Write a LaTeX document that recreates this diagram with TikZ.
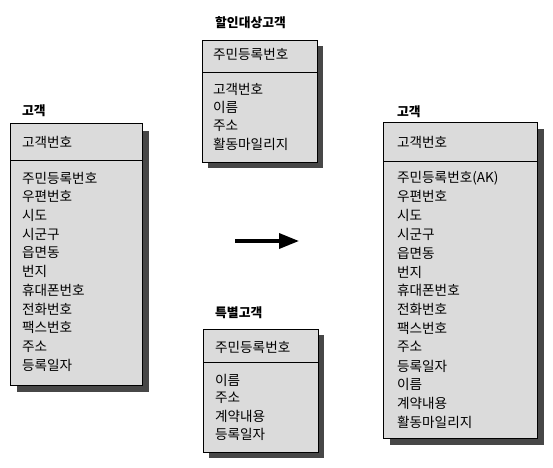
\documentclass[tikz,border=0pt]{standalone}
\usepackage{fontspec}
\setmainfont{Noto Sans CJK KR}
\usetikzlibrary{arrows.meta}

\tikzset{
  entity/.style={fill=gray!28, draw=black, line width=0.7pt},
  shade box/.style={fill=black!72},
  title/.style={anchor=west, inner sep=0pt, font=\fontsize{12.8}{15}\selectfont\bfseries},
  attr/.style={anchor=west, inner sep=0pt, font=\fontsize{13.6}{15}\selectfont},
}

\begin{document}
\begin{tikzpicture}[x=1pt, y=-1pt]
  \useasboundingbox (0,0) rectangle (553,467);

  % left entity: 고객
  \fill[shade box] (17,131) rectangle (149,392);
  \draw[entity] (10,123) rectangle (142,385);
  \draw[line width=0.7pt] (10,160) -- (142,160);
  \node[title] (lefttitle) at (22,111) {고객};
  \node[attr] (leftkey) at (22,142) {고객번호};
  \foreach \a [count=\i] in {주민등록번호, 우편번호, 시도, 시군구, 읍면동, 번지,
      휴대폰번호, 전화번호, 팩스번호, 주소, 등록일자}
    \node[attr] (left-\i) at (22,{178+18.7*(\i-1)}) {\a};

  % middle top entity: 할인대상고객
  \fill[shade box] (208,46) rectangle (323,168);
  \draw[entity] (202,40) rectangle (317,162);
  \draw[line width=0.7pt] (202,72) -- (317,72);
  \node[title] (toptitle) at (215,23) {할인대상고객};
  \node[attr] (topkey) at (213,54) {주민등록번호};
  \foreach \a [count=\i] in {고객번호, 이름, 주소, 활동마일리지}
    \node[attr] (top-\i) at (213,{89+18.3*(\i-1)}) {\a};

  % middle bottom entity: 특별고객
  \fill[shade box] (209,335) rectangle (324,458);
  \draw[entity] (203,329) rectangle (318,452);
  \draw[line width=0.7pt] (203,362) -- (318,362);
  \node[title] (bottomtitle) at (215,313) {특별고객};
  \node[attr] (bottomkey) at (215,347) {주민등록번호};
  \foreach \a [count=\i] in {이름, 주소, 계약내용, 등록일자}
    \node[attr] (bottom-\i) at (215,{380+18*(\i-1)}) {\a};

  % right entity: 고객 (merged)
  \fill[shade box] (390,129) rectangle (544,445);
  \draw[entity] (383,122) rectangle (537,438);
  \draw[line width=0.7pt] (383,161) -- (537,161);
  \node[title] (righttitle) at (397,112) {고객};
  \node[attr] (rightkey) at (397,142) {고객번호};
  \foreach \a [count=\i] in {주민등록번호(AK), 우편번호, 시도, 시군구, 읍면동, 번지,
      휴대폰번호, 전화번호, 팩스번호, 주소, 등록일자, 이름, 계약내용, 활동마일리지}
    \node[attr] (right-\i) at (397,{178+18.8*(\i-1)}) {\a};

  % transformation arrow
  \coordinate (arrowtail) at (235,241);
  \coordinate (arrowhead) at (299,241);
  \draw[line width=3.5pt, -{Triangle[length=20pt, width=15pt]}] (arrowtail) -- (arrowhead);
\end{tikzpicture}
\end{document}
